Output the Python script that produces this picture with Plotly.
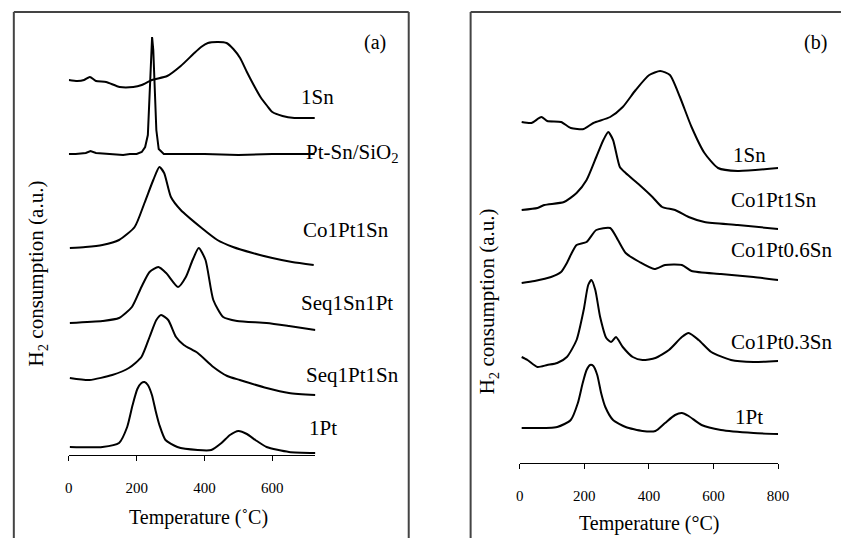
import plotly.graph_objects as go

W, H = 850, 538
FONT = "Liberation Serif, Times New Roman, serif"

# ---------------- Panel (a) data (temperature in C, signal in a.u.) ----------------
a_1sn_T = [0, 25, 45, 62, 80, 110, 150, 190, 215, 245, 290, 330, 370, 390, 410, 440, 465, 485, 505, 525, 545, 565, 585, 600, 630, 665, 700, 725]
a_1sn_y = [37.5, 37.4, 37.5, 37.8, 37.4, 37.3, 36.8, 36.8, 37.0, 37.5, 37.9, 38.9, 40.2, 40.8, 41.2, 41.3, 41.2, 40.6, 39.7, 38.3, 37.0, 35.8, 34.9, 34.3, 33.9, 33.7, 33.7, 33.7]

a_ptsn_T = [0, 20, 50, 64, 80, 120, 160, 180, 200, 215, 225, 233, 238, 242, 245.5, 249, 253, 258, 265, 280, 320, 400, 500, 600, 725]
a_ptsn_y = [30.1, 30.1, 30.2, 30.4, 30.2, 30.1, 30.0, 30.1, 30.1, 30.3, 30.8, 32.0, 36.0, 40.0, 41.8, 40.5, 36.5, 32.5, 30.6, 30.1, 30.1, 30.1, 30.0, 30.1, 30.1]

a_co_T = [3, 49, 99, 148, 194, 223, 249, 267, 281, 301, 330, 388, 438, 484, 542, 600, 658, 722]
a_co_y = [20.7, 20.8, 21.0, 21.5, 22.8, 25.2, 27.5, 28.8, 28.2, 25.8, 24.5, 22.8, 21.5, 20.8, 20.2, 19.7, 19.3, 19.0]

a_seqsnpt_T = [3, 99, 148, 186, 214, 238, 264, 287, 322, 345, 365, 383, 403, 426, 455, 496, 583, 649, 727]
a_seqsnpt_y = [13.2, 13.4, 13.7, 14.8, 16.8, 18.3, 18.8, 18.2, 16.8, 17.8, 19.5, 20.7, 19.5, 15.5, 13.8, 13.4, 13.2, 12.9, 12.5]

a_seqptsn_T = [3, 61, 128, 177, 214, 238, 258, 272, 293, 316, 339, 380, 426, 467, 504, 583, 649, 727]
a_seqptsn_y = [7.7, 7.5, 8.0, 8.7, 9.8, 11.8, 13.5, 14.0, 13.5, 11.8, 11.0, 10.2, 8.8, 7.9, 7.5, 6.7, 6.2, 6.0]

a_1pt_T = [3, 99, 148, 172, 188, 202, 214, 223, 233, 245, 256, 267, 285, 320, 380, 420, 450, 475, 500, 525, 550, 583, 649, 727]
a_1pt_y = [0.8, 0.8, 1.2, 2.8, 5.0, 6.6, 7.2, 7.3, 7.0, 6.0, 4.4, 3.0, 1.5, 0.8, 0.5, 0.5, 1.2, 2.0, 2.4, 2.1, 1.5, 0.8, 0.3, 0.2]

# ---------------- Panel (b) data ----------------
b_1sn_T = [6, 36, 67, 85, 128, 158, 198, 228, 280, 319, 359, 401, 435, 465, 496, 532, 572, 614, 675, 800]
b_1sn_y = [34.1, 34.0, 34.6, 34.2, 34.1, 33.5, 33.4, 34.0, 34.6, 35.6, 37.3, 38.8, 39.2, 38.8, 36.6, 33.6, 31.0, 29.5, 29.2, 29.5]

b_co1_T = [6, 55, 76, 137, 176, 207, 237, 259, 274, 289, 310, 328, 371, 411, 441, 481, 523, 572, 675, 800]
b_co1_y = [25.3, 25.5, 25.8, 26.1, 27.0, 28.3, 30.6, 32.3, 33.1, 32.3, 29.6, 29.0, 27.8, 26.6, 25.6, 25.3, 24.6, 24.1, 23.8, 23.4]

b_co06_T = [6, 46, 97, 128, 146, 161, 176, 207, 237, 280, 304, 328, 371, 417, 450, 502, 532, 623, 724, 800]
b_co06_y = [18.0, 18.2, 18.6, 19.1, 20.0, 21.0, 21.8, 22.1, 23.3, 23.5, 22.3, 21.0, 20.1, 19.4, 19.8, 19.8, 19.2, 18.9, 18.6, 18.3]

b_co03_T = [6, 24, 55, 85, 116, 146, 176, 198, 212, 222, 234, 249, 268, 283, 298, 319, 350, 380, 420, 462, 502, 523, 554, 593, 654, 724, 800]
b_co03_y = [10.6, 10.3, 9.6, 9.8, 10.0, 10.6, 12.3, 15.3, 17.8, 18.3, 17.3, 14.6, 12.5, 12.1, 12.6, 11.6, 10.6, 10.3, 10.5, 11.3, 12.6, 13.0, 12.3, 11.1, 10.3, 10.1, 10.2]

b_1pt_T = [6, 116, 158, 180, 195, 207, 218, 228, 240, 252, 265, 289, 328, 380, 420, 450, 481, 502, 523, 563, 623, 724, 800]
b_1pt_y = [3.5, 3.6, 4.3, 6.0, 8.0, 9.3, 9.8, 9.7, 8.8, 7.0, 5.6, 4.3, 3.6, 3.2, 3.2, 4.0, 4.8, 5.0, 4.7, 3.8, 3.3, 3.0, 2.9]

a_labels = ["1Sn", "Pt-Sn/SiO<sub>2</sub>", "Co1Pt1Sn", "Seq1Sn1Pt", "Seq1Pt1Sn", "1Pt"]
b_labels = ["1Sn", "Co1Pt1Sn", "Co1Pt0.6Sn", "Co1Pt0.3Sn", "1Pt"]
a_ticks = [0, 200, 400, 600]
b_ticks = [0, 200, 400, 600, 800]


def px(x):
    return x / W


def py(y):
    return 1 - y / H


fig = go.Figure()

a_series = [(a_1sn_T, a_1sn_y, "spline"), (a_ptsn_T, a_ptsn_y, "linear"), (a_co_T, a_co_y, "spline"),
            (a_seqsnpt_T, a_seqsnpt_y, "spline"), (a_seqptsn_T, a_seqptsn_y, "spline"), (a_1pt_T, a_1pt_y, "spline")]
for (t, v, shp), name in zip(a_series, a_labels):
    fig.add_trace(go.Scatter(x=t, y=v, mode="lines", name=name, xaxis="x", yaxis="y",
                             line=dict(color="black", width=2, shape=shp, smoothing=0.6)))

b_series = [(b_1sn_T, b_1sn_y), (b_co1_T, b_co1_y), (b_co06_T, b_co06_y), (b_co03_T, b_co03_y), (b_1pt_T, b_1pt_y)]
for (t, v), name in zip(b_series, b_labels):
    fig.add_trace(go.Scatter(x=t, y=v, mode="lines", name=name, xaxis="x2", yaxis="y2",
                             line=dict(color="black", width=2, shape="spline", smoothing=0.6)))

xcommon = dict(showline=True, linecolor="black", linewidth=1, showgrid=False, zeroline=False,
               ticks="outside", ticklen=5, tickcolor="black", tickwidth=1,
               tickfont=dict(family=FONT, size=15, color="black"), ticklabelstandoff=14)
ycommon = dict(visible=False, showgrid=False, zeroline=False)

fig.update_layout(
    width=W, height=H, margin=dict(l=0, r=0, t=0, b=0),
    paper_bgcolor="white", plot_bgcolor="white", showlegend=False,
    xaxis=dict(domain=[px(66), px(317)], range=[0, 727], tickvals=a_ticks, anchor="y", **xcommon),
    yaxis=dict(domain=[py(455), py(20)], range=[0, 43.5], anchor="x", **ycommon),
    xaxis2=dict(domain=[px(525), px(788)], range=[0, 800], tickvals=b_ticks, anchor="y2", **xcommon),
    yaxis2=dict(domain=[py(463), py(20)], range=[0, 44.3], anchor="x2", **ycommon),
)

# panel frames
frame = dict(color="#444444", width=2)
for x0, y0, x1, y1 in [(10, 12, 10, 540), (10, 12, 412, 12), (412, 12, 412, 540),
                       (475, 12, 475, 540), (475, 12, 852, 12)]:
    fig.add_shape(type="line", xref="paper", yref="paper", x0=px(x0), y0=py(y0), x1=px(x1), y1=py(y1), line=frame)


def ann(text, x, y, xanchor="left", angle=0, size=21):
    fig.add_annotation(text=text, x=px(x), y=py(y), xref="paper", yref="paper", showarrow=False,
                       xanchor=xanchor, yanchor="middle", textangle=angle,
                       font=dict(family=FONT, size=size, color="black"))


a_lab_pos = [(300, 97), (305, 153), (302, 230), (300, 303), (305, 375), (308, 428)]
for txt, (x, y) in zip(a_labels, a_lab_pos):
    ann(txt, x, y)
b_lab_pos = [(740, 155), (738, 200), (738, 250), (738, 342), (742, 417)]
for txt, (x, y) in zip(b_labels, b_lab_pos):
    ann(txt, x, y)

ann("(a)", 378, 43, xanchor="center", size=20)
ann("(b)", 826, 43, xanchor="center", size=20)
ann("Temperature (˚C)", 198, 517, xanchor="center", size=20)
ann("Temperature (°C)", 657, 523, xanchor="center", size=20)
ann("H<sub>2</sub> consumption (a.u.)", 34, 273, xanchor="center", angle=-90)
ann("H<sub>2</sub> consumption (a.u.)", 493, 301, xanchor="center", angle=-90)

fig.write_html("out.html", config={"displayModeBar": False},
               post_script="document.body.style.margin='0';document.body.style.overflow='hidden';")
